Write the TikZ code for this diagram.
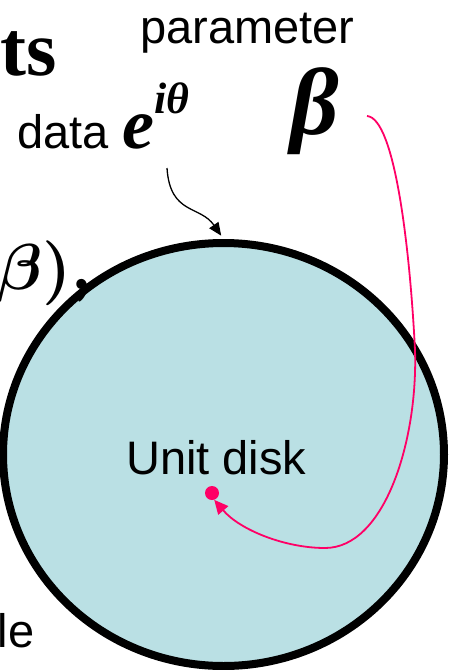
\documentclass[tikz,border=0pt]{standalone}
\usepackage{graphicx}
\usepackage{fontspec}
\setmainfont{Liberation Serif}
\newfontfamily\arialf{Liberation Sans}
\usetikzlibrary{arrows.meta,shapes.geometric}
\definecolor{diskfill}{RGB}{186,224,228}
\definecolor{pinkc}{RGB}{255,0,102}
\begin{document}
\begin{tikzpicture}[x=1pt,y=-1pt,
  lbl/.style={font=\arialf\fontsize{47}{50}\selectfont, inner sep=0pt, anchor=base west},
  bigserif/.style={inner sep=0pt, anchor=base west},
  blackarrow/.style={line width=1.3pt, -{Triangle[length=13pt,width=11pt]}},
  pinkarrow/.style={draw=pinkc, line width=1.8pt, -{Triangle[length=14pt,width=13pt]}},
  diskstyle/.style={ellipse, draw, line width=8pt, fill=diskfill, inner sep=0pt,
     minimum width=441pt, minimum height=423pt}]
\useasboundingbox (0,0) rectangle (449,670);

\node[diskstyle] (disk) at (223.5,454.5) {};

\node[bigserif, font=\bfseries\fontsize{78}{78}\selectfont] (ts) at (0,75) {ts};
\node[lbl] (param) at (140,43) {parameter};
\node[lbl] (data) at (17,148) {data};
\node[bigserif, font=\bfseries\itshape\fontsize{72}{72}\selectfont] (eexp) at (122,148)
  {e\raisebox{35pt}{\fontsize{44}{44}\selectfont iθ}};
\node[bigserif, font=\bfseries\itshape\fontsize{95}{95}\selectfont] (beta) at (290,134) {β};
\node[bigserif] (leftbeta) at (-3,289) {\scalebox{6.5}{\boldmath$\beta),$}};
\node[lbl] (unit) at (126,474) {Unit disk};
\node[lbl] (le) at (-2.5,647) {le};

\node[circle, fill=pinkc, minimum size=14pt, inner sep=0pt] (dot) at (212,493) {};

\coordinate (dstart) at (167,168);
\coordinate (bstart) at (367,116);

\draw[blackarrow, shorten >=4pt] (dstart) .. controls (170,215) and (200,205) .. (disk.north);
\draw[pinkarrow] (bstart) .. controls (395,118) and (410,250) .. (415,350)
   .. controls (418,440) and (385,548) .. (325,548)
   .. controls (285,548) and (240,530) .. (dot.-72);
\end{tikzpicture}
\end{document}
